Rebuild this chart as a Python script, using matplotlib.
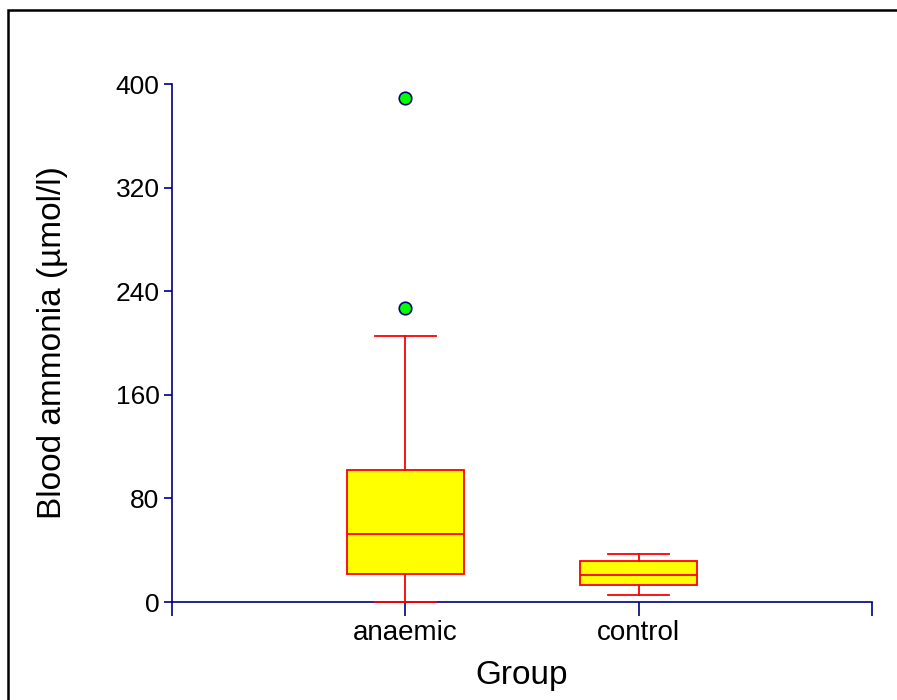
import matplotlib
matplotlib.use('Agg')
import matplotlib.pyplot as plt
from matplotlib.patches import Rectangle

plt.rcParams['font.family'] = ['Liberation Sans', 'DejaVu Sans']

# summary statistics per group (umol/l)
groups = ['anaemic', 'control']
whislo = [0.0, 5.2]
q1 = [21.5, 13.4]
med = [52.7, 20.6]
q3 = [101.6, 31.9]
whishi = [205.5, 37.3]
outliers = [[389.4, 227.0], []]

yticks = [0, 80, 160, 240, 320, 400]

navy = '#000080'
red = '#FF0000'

stats = []
for i in range(len(groups)):
    stats.append({'label': groups[i], 'whislo': whislo[i], 'q1': q1[i], 'med': med[i],
                  'q3': q3[i], 'whishi': whishi[i], 'fliers': outliers[i]})

fig = plt.figure(figsize=(8.97, 7), dpi=100)
ax = fig.add_axes([0.1918, 0.14, 0.7804, 0.74])

bp = ax.bxp(stats, positions=[1, 2], widths=0.5, patch_artist=True, showfliers=True,
            zorder=3,
            boxprops=dict(facecolor='#FFFF00', edgecolor=red, linewidth=1.3),
            medianprops=dict(color=red, linewidth=1.3),
            whiskerprops=dict(color=red, linewidth=1.3),
            capprops=dict(color=red, linewidth=1.3),
            capwidths=0.26,
            flierprops=dict(marker='o', markerfacecolor='#00FF00', markeredgecolor=navy,
                            markersize=9, markeredgewidth=1.2))
for key in ['whiskers', 'caps', 'medians', 'fliers']:
    for line in bp[key]:
        line.set_clip_on(False)

ax.set_xlim(0, 3)
ax.set_ylim(0, 400)
ax.set_yticks(yticks)
ax.set_yticklabels([str(t) for t in yticks], fontsize=19)
ax.set_xticks([0, 1, 2, 3])
ax.set_xticklabels(['', 'anaemic', 'control', ''], fontsize=20)

for s in ['top', 'right']:
    ax.spines[s].set_visible(False)
for s in ['left', 'bottom']:
    ax.spines[s].set_color(navy)
    ax.spines[s].set_linewidth(1.2)
ax.tick_params(axis='y', colors=navy, labelcolor='black', length=6, width=1.2, pad=3)
ax.tick_params(axis='x', colors=navy, labelcolor='black', length=10, width=1.2, pad=3)

ax.set_xlabel('Group', fontsize=24, labelpad=10)
ax.set_ylabel('Blood ammonia (µmol/l)', fontsize=24, labelpad=34)

# frame around the whole figure
fig.patches.append(Rectangle((8 / 897, -0.1), 1.2, 1 - 10 / 700 + 0.1, transform=fig.transFigure,
                             fill=False, edgecolor='black', linewidth=1.8))

fig.savefig('out.png', dpi=100)
